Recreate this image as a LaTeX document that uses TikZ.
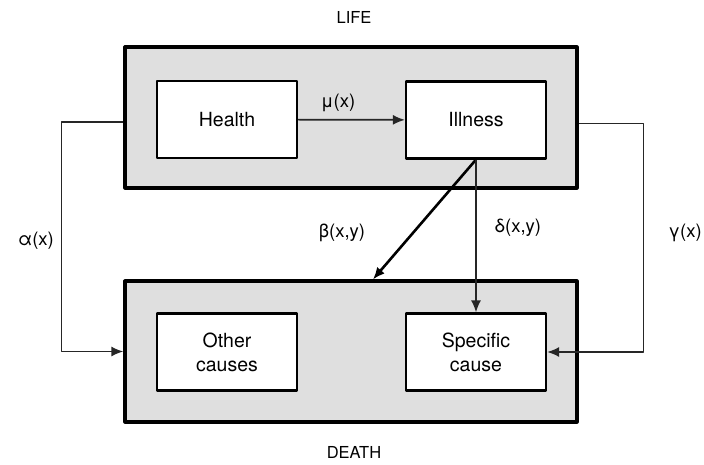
\documentclass[tikz,border=0pt]{standalone}
\usepackage{fontspec}
\setmainfont{TeX Gyre Heros}
\usetikzlibrary{arrows.meta,calc}

\tikzset{
  stato/.style={draw=black, line width=3.2pt, fill=gray!25},
  box/.style={draw=black, line width=2.2pt, fill=white, minimum width=140pt,
    minimum height=77pt, align=center, font=\fontsize{19.5}{24}\selectfont},
  conn/.style={line width=1.7pt, draw=black!85, -{Latex[length=12pt,width=10pt]}},
  tasso/.style={font=\fontsize{18.5}{22}\selectfont},
  titolo/.style={font=\fontsize{16.5}{20}\selectfont}
}

\begin{document}
\begin{tikzpicture}[x=10pt, y=-10pt, line join=round]
\useasboundingbox (0,0) rectangle (70.4,46.4);

% Stati principali
\node[stato, minimum width=452pt, minimum height=141pt] (life) at (35.1,11.75) {};
\node[stato, minimum width=452pt, minimum height=141pt] (death) at (35.1,35.15) {};

% Titoli
\node[titolo] (lifelab) at (35.4,1.7) {LIFE};
\node[titolo] (deathlab) at (35.4,45.2) {DEATH};

% Sottostati
\node[box] (health) at (22.7,11.95) {Health};
\node[box] (ill) at (47.6,12.0) {Illness};
\node[box] (other) at (22.7,35.2) {Other\\causes};
\node[box] (spec) at (47.6,35.2) {Specific\\cause};

% Transizioni
\draw[conn] (health) -- (ill);
\draw[conn, line width=2.6pt, draw=black] (ill.south) -- ($(death.north)+(2.2,0)$);
\draw[conn] (ill.south) -- (spec.north);
\draw[conn] ($(life.west)+(0,0.45)$) -- ++(-6.2,0) |- (death.west);
\draw[conn] ($(life.east)+(0,0.6)$) -- ++(6.5,0) |- (spec.east);

% Intensita
\node[tasso] (mu) at (33.8,10.3) {μ(x)};
\node[tasso] (beta) at (34.2,23.3) {β(x,y)};
\node[tasso] (delta) at (51.8,22.8) {δ(x,y)};
\node[tasso] (alpha) at (3.6,24.1) {α(x)};
\node[tasso] (gamma) at (68.5,23.3) {γ(x)};

\end{tikzpicture}
\end{document}
